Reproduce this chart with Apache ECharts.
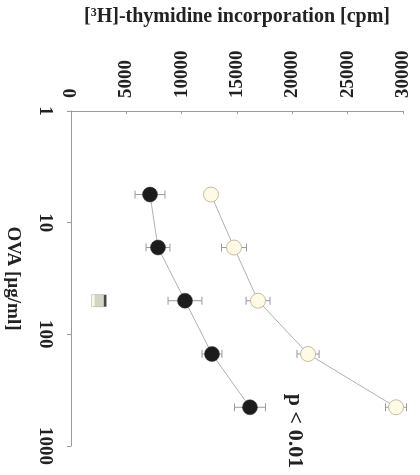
<!DOCTYPE html>
<html>
<head>
<meta charset="utf-8">
<script src="https://cdn.jsdelivr.net/npm/echarts@6/dist/echarts.min.js"></script>
<style>
  html, body { margin: 0; padding: 0; background: #fff; }
  #chart { width: 420px; height: 475px; }
</style>
</head>
<body>
<div id="chart"></div>
<script>
// OVA concentrations (µg/ml), three-fold dilution series
const ovaDose = [5.6, 16.7, 50, 150, 450];

// filled circles: mean cpm and half-width of the error bar
const filledCpm = [7140, 7860, 10300, 12740, 16170];
const filledErr = [1350, 1080, 1530, 900, 1400];

// open circles: mean cpm and half-width of the error bar
const openCpm = [12650, 14730, 16900, 21420, 29370];
const openErr = [500, 1130, 1080, 1000, 950];

// unstimulated controls at 50 µg/ml
const controlDose = 50;
const controlFilledCpm = 2665;
const controlOpenCpm = 2395;

const FONT = '"Liberation Serif", "Times New Roman", serif';
const TEXT = '#222';

function pairs(xs, ys) { return xs.map((v, i) => [v, ys[i]]); }
function errRows(vals, errs) { return vals.map((v, i) => [v - errs[i], v + errs[i], ovaDose[i]]); }

// horizontal error bar with end caps
function errorBar(params, api) {
  const lo = api.coord([api.value(0), api.value(2)]);
  const hi = api.coord([api.value(1), api.value(2)]);
  const h = 4;
  const style = { stroke: '#9a9a9a', lineWidth: 1, fill: null };
  return {
    type: 'group',
    children: [
      { type: 'line', shape: { x1: lo[0], y1: lo[1], x2: hi[0], y2: hi[1] }, style },
      { type: 'line', shape: { x1: lo[0], y1: lo[1] - h, x2: lo[0], y2: lo[1] + h }, style },
      { type: 'line', shape: { x1: hi[0], y1: hi[1] - h, x2: hi[0], y2: hi[1] + h }, style }
    ]
  };
}

const chart = echarts.init(document.getElementById('chart'), null, { renderer: 'canvas' });

chart.setOption({
  animation: false,
  backgroundColor: '#fff',
  grid: { left: 71, right: 17, top: 111, bottom: 29, containLabel: false, outerBoundsMode: 'none' },
  xAxis: {
    type: 'value',
    position: 'top',
    min: 0,
    max: 30000,
    interval: 5000,
    name: '[{sup|3}H]-thymidine incorporation [cpm]',
    nameLocation: 'middle',
    nameGap: 84,
    nameTextStyle: {
      fontFamily: FONT, fontWeight: 'bold', fontSize: 20, color: TEXT,
      rich: { sup: { fontFamily: FONT, fontWeight: 'bold', fontSize: 12, color: TEXT, verticalAlign: 'top', padding: [0, 0, 8, 0] } }
    },
    axisLine: { lineStyle: { color: '#9a9a9a', width: 1 } },
    axisTick: { inside: true, length: 3, lineStyle: { color: '#9a9a9a' } },
    splitLine: { show: false },
    axisLabel: {
      rotate: -90, margin: 13,
      formatter: (v) => String(v),
      fontFamily: FONT, fontWeight: 'bold', fontSize: 19, color: TEXT
    }
  },
  yAxis: {
    type: 'log',
    logBase: 10,
    min: 1,
    max: 1000,
    inverse: true,
    name: 'OVA [µg/ml]',
    nameLocation: 'middle',
    nameRotate: -90,
    nameGap: 49,
    nameTextStyle: { fontFamily: FONT, fontWeight: 'bold', fontSize: 19, color: TEXT },
    axisLine: { lineStyle: { color: '#9a9a9a', width: 1 } },
    axisTick: { length: 4, lineStyle: { color: '#9a9a9a' } },
    minorTick: { show: false },
    splitLine: { show: false },
    axisLabel: {
      rotate: -90, margin: 17,
      formatter: (v) => String(v),
      fontFamily: FONT, fontWeight: 'bold', fontSize: 19, color: TEXT
    }
  },
  series: [
    {
      type: 'custom',
      renderItem: errorBar,
      data: errRows(filledCpm, filledErr),
      z: 1
    },
    {
      type: 'custom',
      renderItem: errorBar,
      data: errRows(openCpm, openErr),
      z: 1
    },
    {
      type: 'line',
      data: pairs(filledCpm, ovaDose),
      symbol: 'circle',
      symbolSize: 15,
      lineStyle: { color: '#b0b0b0', width: 1 },
      itemStyle: { color: '#1c1c1c', borderColor: '#333', borderWidth: 0.5 },
      z: 3
    },
    {
      type: 'line',
      data: pairs(openCpm, ovaDose),
      symbol: 'circle',
      symbolSize: 15,
      lineStyle: { color: '#b0b0b0', width: 1 },
      itemStyle: { color: '#fdfbe4', borderColor: '#c7bba6', borderWidth: 1 },
      z: 3
    },
    {
      type: 'scatter',
      data: [[controlFilledCpm, controlDose]],
      symbol: 'rect',
      symbolSize: 12,
      itemStyle: { color: '#1c1c1c' },
      z: 4
    },
    {
      type: 'scatter',
      data: [[controlOpenCpm, controlDose]],
      symbol: 'rect',
      symbolSize: 12,
      itemStyle: { color: '#f8f9e4', borderColor: '#c9c9b8', borderWidth: 1 },
      z: 5
    }
  ],
  graphic: [
    {
      type: 'text',
      x: 295,
      y: 431,
      rotation: -Math.PI / 2,
      style: {
        text: 'p < 0.01',
        fontFamily: FONT, fontWeight: 'bold', fontSize: 22, fill: TEXT,
        textAlign: 'center', textVerticalAlign: 'middle'
      }
    }
  ]
});
</script>
</body>
</html>
